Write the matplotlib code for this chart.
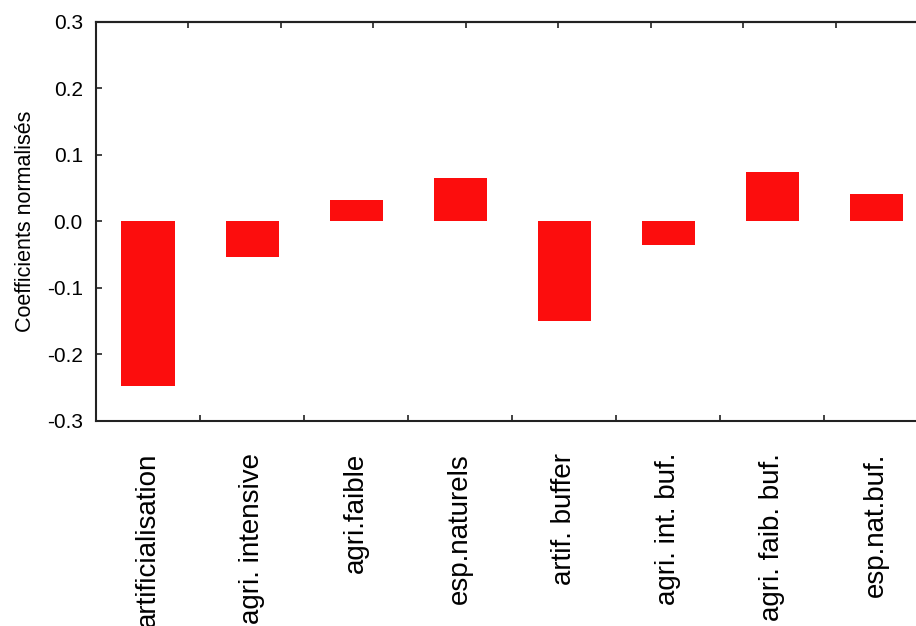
import matplotlib
matplotlib.use("Agg")
import matplotlib.pyplot as plt
import numpy as np

categories = ["artificialisation", "agri. intensive", "agri.faible", "esp.naturels",
              "artif. buffer", "agri. int. buf.", "agri. faib. buf.", "esp.nat.buf."]
values = [-0.248, -0.053, 0.033, 0.066, -0.149, -0.036, 0.074, 0.042]
yticks = [-0.3, -0.2, -0.1, 0.0, 0.1, 0.2, 0.3]
ytick_labels = ["-0.3", "-0.2", "-0.1", "0.0", "0.1", "0.2", "0.3"]
ylabel = "Coefficients normalisés"

plt.rcParams['font.family'] = ['Liberation Sans', 'DejaVu Sans']

fig = plt.figure(figsize=(9.16, 6.26), dpi=100)
ax = fig.add_axes([0.1048, 0.3275, 0.9087, 0.6374])

x = np.arange(len(categories))
ax.bar(x, values, width=0.51, color='#FC0D0D', edgecolor='none', zorder=2)

n = len(categories)
ax.set_xlim(-0.5, n - 0.5)
ax.set_ylim(-0.3, 0.3)

ax.set_yticks(yticks)
ax.set_yticklabels(ytick_labels, fontsize=15)
ax.tick_params(axis='y', direction='in', length=4, width=1.2, pad=9.5, color='#222222')

ax.set_xticks(x)
ax.set_xticklabels(categories, rotation=90, fontsize=20, va='top', ha='center')
ax.tick_params(axis='x', which='major', length=0, pad=23)
ax.set_xticks(np.arange(0.5, n - 1, 1.0), minor=True)
ax.tick_params(axis='x', which='minor', direction='in', length=4, width=1.2, color='#222222')

ax.set_ylabel(ylabel, fontsize=15.5, labelpad=8)

for s in ['left', 'bottom', 'top']:
    ax.spines[s].set_linewidth(1.5)
    ax.spines[s].set_color('#222222')
ax.spines['right'].set_visible(False)

ax2 = ax.twiny()
ax2.set_xlim(ax.get_xlim())
lo, hi = ax.get_xlim()
ax2.set_xticks([lo + k * (hi - lo) / 9 for k in range(1, 9)])
ax2.set_xticklabels([])
ax2.tick_params(axis='x', direction='in', length=4, width=1.2, color='#222222')
for s in ['left', 'bottom', 'right']:
    ax2.spines[s].set_visible(False)
ax2.spines['top'].set_linewidth(1.5)
ax2.spines['top'].set_color('#222222')

fig.savefig("out.png", dpi=100)
